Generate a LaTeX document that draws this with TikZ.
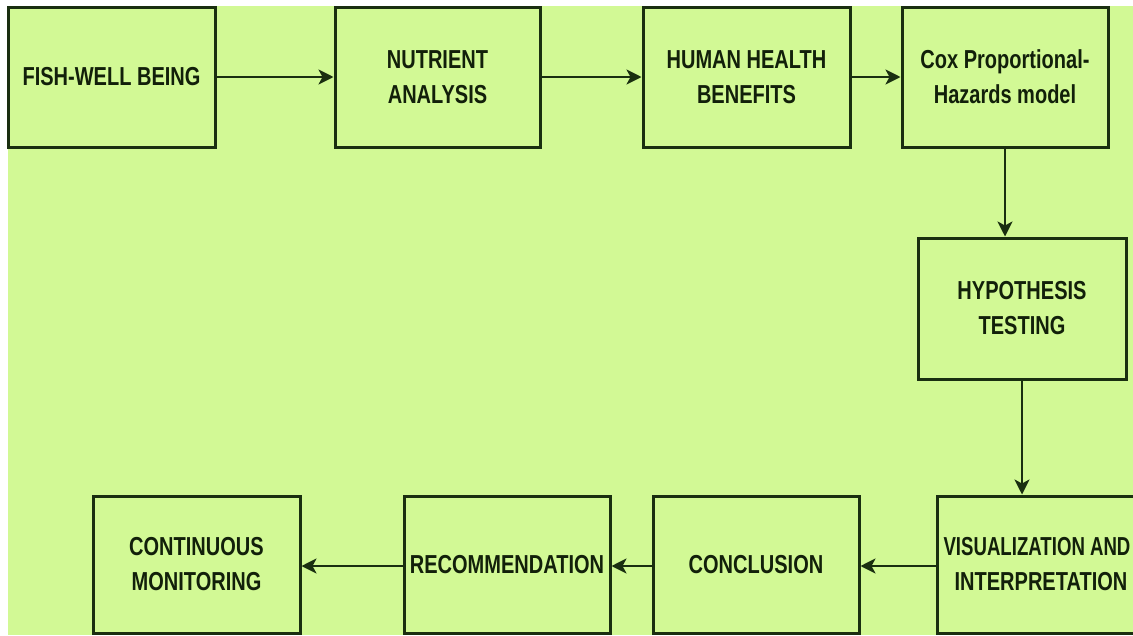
\documentclass[tikz,border=0pt]{standalone}
\usepackage{fontspec}
\setmainfont{Liberation Sans}[FakeStretch=0.77]
\usetikzlibrary{arrows.meta}
\definecolor{bg}{HTML}{D2F995}
\definecolor{ln}{HTML}{1A2F10}
\definecolor{tx}{HTML}{12200A}
\begin{document}
\begin{tikzpicture}[x=1pt,y=-1pt,
  box/.style={draw=ln, line width=3pt, fill=bg, rectangle, minimum width=206pt,
    minimum height=138pt, align=center, text=tx, inner sep=0pt,
    font=\fontsize{26}{35}\selectfont\bfseries},
  flow/.style={draw=ln, line width=2.6pt, -{Stealth[length=15pt,width=15pt,inset=4pt]}}]
\clip (0,0) rectangle (1133,635);
\fill[white] (0,0) rectangle (1133,635);
\fill[bg] (8,6) rectangle (1133,635);
% top row
\node[box, minimum width=207pt, minimum height=140pt] (fish) at (111.5,77) {FISH-WELL BEING};
\node[box, minimum width=205pt, minimum height=140pt] (nutr) at (437.5,77) {NUTRIENT\\ANALYSIS};
\node[box, minimum width=207pt, minimum height=140pt] (human) at (746.5,77) {HUMAN HEALTH\\BENEFITS};
\node[box, minimum width=206pt, minimum height=140pt] (cox) at (1005,77) {Cox Proportional-\\Hazards model};
% middle
\node[box, minimum width=208pt, minimum height=141pt] (hyp) at (1022,308.5) {HYPOTHESIS\\TESTING};
% bottom row
\node[box, minimum width=208pt, minimum height=137pt] (vis) at (1041,564.5) {\hspace*{-8pt}\scalebox{0.93}[1]{VISUALIZATION AND}\\INTERPRETATION};
\node[box, minimum width=206pt, minimum height=137pt] (conc) at (756,564.5) {CONCLUSION};
\node[box, minimum width=206pt, minimum height=137pt] (reco) at (507,564.5) {RECOMMENDATION};
\node[box, minimum width=207pt, minimum height=137pt] (cont) at (196.5,564.5) {CONTINUOUS\\MONITORING};
% connectors
\draw[flow] (fish) -- (nutr);
\draw[flow] (nutr) -- (human);
\draw[flow] (human) -- (cox);
\draw[flow] (cox.south) -- (cox.south |- hyp.north);
\draw[flow] (hyp.south) -- (hyp.south |- vis.north);
\draw[flow] (vis.west |- 0,566) -- (conc.east |- 0,566);
\draw[flow] (conc.west |- 0,566) -- (reco.east |- 0,566);
\draw[flow] (reco.west |- 0,566) -- (cont.east |- 0,566);
\end{tikzpicture}
\end{document}
